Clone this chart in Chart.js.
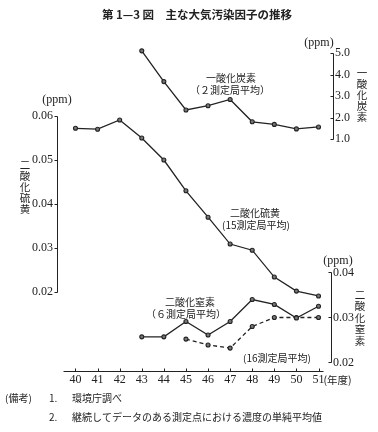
<!DOCTYPE html>
<html lang="ja">
<head>
<meta charset="utf-8">
<title>主な大気汚染因子の推移</title>
<script src="https://cdn.jsdelivr.net/npm/chart.js@4.4.1/dist/chart.umd.min.js"></script>
<style>
  html, body { margin: 0; padding: 0; background: #fff; }
  #wrap { width: 378px; height: 432px; }
</style>
</head>
<body>
<div id="wrap"><canvas id="airChart" width="378" height="432"></canvas></div>
<script>
// 年度 (昭和)
const years = [40, 41, 42, 43, 44, 45, 46, 47, 48, 49, 50, 51];

// 二酸化硫黄 (15測定局平均) ppm
const so2 = [0.0572, 0.0570, 0.0591, 0.0550, 0.0500, 0.0430, 0.0370, 0.0309, 0.0295, 0.0234, 0.0202, 0.0191];
// 一酸化炭素 (2測定局平均) ppm
const co = [null, null, null, 5.1, 3.67, 2.35, 2.55, 2.84, 1.8, 1.68, 1.47, 1.56];
// 二酸化窒素 (6測定局平均) ppm
const no2Six = [null, null, null, 0.0257, 0.0257, 0.0291, 0.0261, 0.0291, 0.0340, 0.0329, 0.0299, 0.0325];
// 二酸化窒素 (16測定局平均) ppm
const no2Sixteen = [null, null, null, null, null, 0.0252, 0.0239, 0.0232, 0.0280, 0.0300, 0.0300, 0.0300];

// 目盛
const so2Ticks = [0.02, 0.03, 0.04, 0.05, 0.06];
const coTicks = [1, 2, 3, 4, 5];
const no2Ticks = [0.02, 0.03, 0.04];

const INK = "#222";
const serif = '"Liberation Serif", "DejaVu Serif", serif';
const jp = '"Noto Sans CJK JP", "Noto Sans", sans-serif';

function points(values) {
  return years
    .map((y, i) => ({ x: y, y: values[i] }))
    .filter(p => p.y !== null);
}

function lineSet(label, values, axis, dash) {
  return {
    label: label,
    data: points(values),
    yAxisID: axis,
    borderColor: INK,
    borderWidth: 1.3,
    borderDash: dash || [],
    pointRadius: 2,
    pointBorderWidth: 1.1,
    pointBorderColor: INK,
    pointBackgroundColor: "#777",
    tension: 0,
    clip: 6,
  };
}

function fixTicks(list) {
  return scale => { scale.ticks = list.map(v => ({ value: v })); };
}

// 軸線・目盛線・文字
const decorPlugin = {
  id: "decor",
  afterDraw(chart) {
    const { ctx } = chart;
    const { x, so2: yS, co: yC, no2: yN } = chart.scales;

    ctx.save();
    ctx.strokeStyle = INK;
    ctx.lineWidth = 1;
    const seg = (x1, y1, x2, y2) => {
      ctx.beginPath();
      ctx.moveTo(Math.round(x1) + 0.5, Math.round(y1) + 0.5);
      ctx.lineTo(Math.round(x2) + 0.5, Math.round(y2) + 0.5);
      ctx.stroke();
    };

    // 左軸 (二酸化硫黄)
    const lx = yS.right;
    seg(lx, yS.getPixelForValue(0.06), lx, yS.getPixelForValue(0.02));
    so2Ticks.forEach(v => { const p = yS.getPixelForValue(v); seg(lx - 3, p, lx, p); });

    // 右軸 (一酸化炭素)
    const rx = yC.left;
    seg(rx, yC.getPixelForValue(5), rx, yC.getPixelForValue(1));
    coTicks.forEach(v => { const p = yC.getPixelForValue(v); seg(rx - 3, p, rx, p); });

    // 右軸 (二酸化窒素)
    const nx = yN.left - 2;
    seg(nx, yN.getPixelForValue(0.04), nx, yN.getPixelForValue(0.02));
    no2Ticks.forEach(v => { const p = yN.getPixelForValue(v); seg(nx - 3, p, nx, p); });

    // 横軸
    const by = x.top;
    seg(x.getPixelForValue(39.45), by, x.getPixelForValue(51.2), by);
    years.forEach(v => { const p = x.getPixelForValue(v); seg(p, by - 3, p, by); });

    // 文字
    ctx.fillStyle = INK;
    ctx.textBaseline = "middle";
    ctx.textAlign = "center";

    ctx.font = "bold 11.5px " + jp;
    ctx.fillText("第 1—3 図　主な大気汚染因子の推移", 197, 15);

    ctx.font = "12px " + serif;
    ctx.fillText("(ppm)", lx, yS.getPixelForValue(0.06) - 16);
    ctx.fillText("(ppm)", rx - 14, yC.getPixelForValue(5) - 10);
    ctx.fillText("(ppm)", nx + 7, yN.getPixelForValue(0.04) - 12);

    const vText = (str, cx, cy, step) => {
      [...str].forEach((c, i) => ctx.fillText(c, cx, cy + i * step));
    };
    ctx.font = "10.5px " + jp;
    vText("二酸化硫黄", 25, 165, 11);
    vText("一酸化炭素", 362, 73, 11);
    vText("二酸化窒素", 360, 295, 11.5);

    ctx.font = "10px " + jp;
    ctx.fillText("一酸化炭素", 231, 78);
    ctx.fillText("（２測定局平均）", 230, 90);
    ctx.fillText("二酸化硫黄", 255, 213);
    ctx.fillText("(15測定局平均)", 256, 225);
    ctx.fillText("二酸化窒素", 190, 302);
    ctx.fillText("（６測定局平均）", 186, 314);
    ctx.fillText("(16測定局平均)", 277, 358);

    ctx.textAlign = "left";
    ctx.font = "10.5px " + jp;
    ctx.fillText("(年度)", x.getPixelForValue(51) + 5, 380);

    ctx.font = "10px " + jp;
    ctx.fillText("(備考)", 5, 398);
    ctx.fillText("1.", 49, 398);
    ctx.fillText("環境庁調べ", 72, 398);
    ctx.fillText("2.", 49, 417);
    ctx.fillText("継続してデータのある測定点における濃度の単純平均値", 72, 417);
    ctx.restore();
  },
};

const tickFont = { family: serif, size: 12 };

new Chart(document.getElementById("airChart"), {
  type: "line",
  data: {
    datasets: [
      lineSet("二酸化硫黄", so2, "so2"),
      lineSet("一酸化炭素", co, "co"),
      lineSet("二酸化窒素 (6測定局平均)", no2Six, "no2"),
      lineSet("二酸化窒素 (16測定局平均)", no2Sixteen, "no2", [4, 3]),
    ],
  },
  options: {
    responsive: false,
    animation: false,
    devicePixelRatio: 1,
    layout: { padding: { left: 0, right: 0, top: 50, bottom: 0 } },
    plugins: {
      legend: { display: false },
      title: { display: false },
      tooltip: { enabled: false },
    },
    scales: {
      x: {
        type: "linear",
        position: "bottom",
        min: 39.163,
        max: 51.656,
        afterBuildTicks: fixTicks(years),
        afterFit: s => { s.height = 61; },
        grid: { display: false, drawTicks: false },
        border: { display: false },
        ticks: {
          autoSkip: false,
          maxRotation: 0,
          padding: 2,
          color: INK,
          font: tickFont,
          callback: v => String(v),
        },
      },
      so2: {
        type: "linear",
        position: "left",
        min: 0.002045,
        max: 0.075,
        afterBuildTicks: fixTicks(so2Ticks),
        afterFit: s => { s.width = 57; },
        grid: { display: false, drawTicks: false },
        border: { display: false },
        ticks: { padding: 4, color: INK, font: tickFont, callback: v => v.toFixed(2) },
      },
      co: {
        type: "linear",
        position: "right",
        stack: "right",
        stackWeight: 150,
        min: -1.837,
        max: 5.1395,
        afterBuildTicks: fixTicks(coTicks),
        afterFit: s => { s.width = 45; },
        grid: { display: false, drawTicks: false },
        border: { display: false },
        ticks: { padding: 2, color: INK, font: tickFont, callback: v => v.toFixed(1) },
      },
      no2: {
        type: "linear",
        position: "right",
        stack: "right",
        stackWeight: 171,
        min: 0.018111,
        max: 0.056111,
        afterBuildTicks: fixTicks(no2Ticks),
        afterFit: s => { s.width = 45; },
        grid: { display: false, drawTicks: false },
        border: { display: false },
        ticks: { padding: 0, color: INK, font: tickFont, callback: v => v.toFixed(2) },
      },
    },
  },
  plugins: [decorPlugin],
});
</script>
</body>
</html>
